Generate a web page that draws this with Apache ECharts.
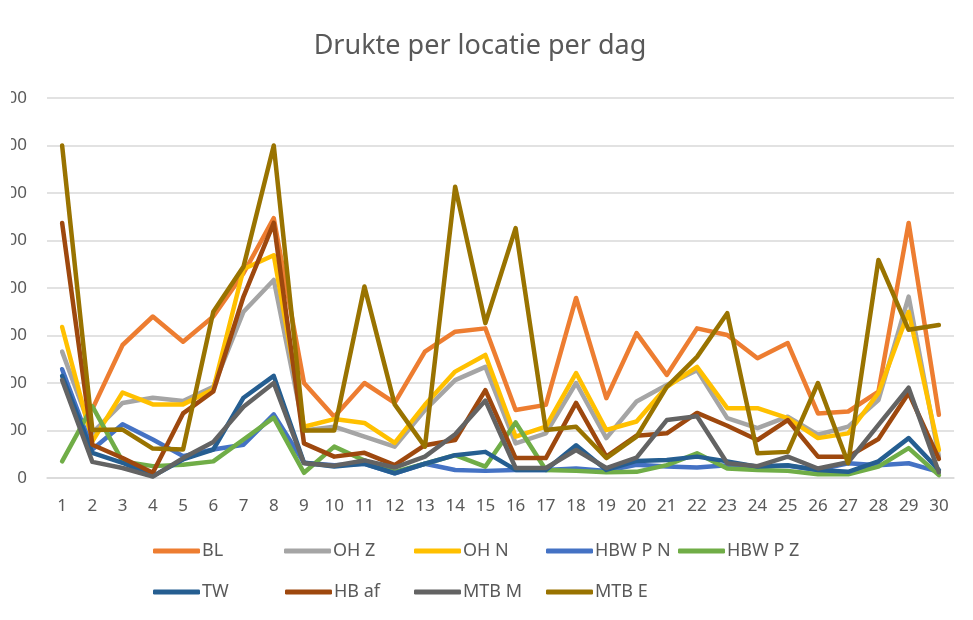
<!DOCTYPE html>
<html>
<head>
<meta charset="utf-8">
<script src="https://cdn.jsdelivr.net/npm/echarts@6/dist/echarts.min.js"></script>
<style>
html,body{margin:0;padding:0;background:#fff;}
#wrap{position:relative;width:973px;height:620px;overflow:hidden;}
#chart{position:absolute;left:0;top:0;width:973px;height:620px;}
#mask{position:absolute;left:0;top:0;width:11px;height:620px;background:#fff;z-index:5;}
</style>
</head>
<body>
<div id="wrap"><div id="chart"></div><div id="mask"></div></div>
<script>
const days = ['1','2','3','4','5','6','7','8','9','10','11','12','13','14','15','16','17','18','19','20','21','22','23','24','25','26','27','28','29','30'];
const yTicks = [0,100,200,300,400,500,600,700,800];

const BL      = [null,145,280,340,287,340,431,547,200,129,200,158,266,308,315,143,154,379,168,305,217,315,301,252,284,136,140,182,537,133];
const OH_Z    = [266,95,158,169,162,192,350,417,100,108,87,66,143,206,234,73,94,200,84,161,196,227,126,105,129,91,108,164,382,45];
const OH_N    = [318,77,180,155,155,187,440,469,108,124,116,74,154,224,259,87,108,221,101,119,192,234,147,147,126,84,94,179,350,59];
const HBW_P_N = [229,60,113,81,46,60,70,134,32,27,30,10,30,17,15,17,17,20,15,28,24,22,27,24,26,17,31,27,31,13];
const HBW_P_Z = [35,151,35,25,28,35,81,127,11,66,37,13,30,48,24,117,17,15,12,13,27,52,20,17,15,8,8,24,63,6];
const TW      = [215,53,32,4,39,60,169,215,32,24,30,10,30,48,55,17,17,69,17,36,38,45,35,24,27,17,13,35,84,17];
const HB_af   = [537,70,42,11,136,182,382,537,73,45,53,27,69,80,185,42,42,158,45,89,94,137,110,80,122,45,45,82,179,40];
const MTB_M   = [206,34,21,3,42,76,150,200,31,26,37,22,45,92,163,21,21,59,21,43,122,130,31,25,45,20,33,112,190,12];
const MTB_E   = [700,101,102,62,60,350,445,700,100,100,403,155,66,613,326,526,101,108,42,87,192,255,347,52,55,200,31,459,312,322];

const names  = ['BL','OH Z','OH N','HBW P N','HBW P Z','TW','HB af','MTB M','MTB E'];
const values = [BL,OH_Z,OH_N,HBW_P_N,HBW_P_Z,TW,HB_af,MTB_M,MTB_E];
const colors = ['#ED7D31','#A5A5A5','#FFC000','#4472C4','#70AD47','#255E91','#9E480E','#636363','#997300'];

const FONT = 'Noto Sans';
const TXT = '#595959';

const legendPos = [
  [153,542],[284,542],[414,542],[546,542],[678,542],
  [153,583],[285,583],[414,583],[546,583]
];

const chart = echarts.init(document.getElementById('chart'), null, {renderer:'canvas'});
chart.setOption({
  animation:false,
  backgroundColor:'#fff',
  title:{
    text:'Drukte per locatie per dag',
    left:475, top:28, textAlign:'center',
    textStyle:{fontFamily:FONT,fontSize:27,fontWeight:'normal',color:TXT}
  },
  legend: names.map((n,i)=>({
    data:[{name:n,icon:'roundRect'}], left:legendPos[i][0], top:legendPos[i][1],
    itemWidth:47, itemHeight:5, itemGap:0, padding:0,
    textStyle:{fontFamily:FONT,fontSize:18,color:TXT,padding:[0,0,0,-3]},
    selectedMode:false
  })),
  grid:{left:47,right:19,top:98,bottom:142,containLabel:false,outerBoundsMode:'none'},
  xAxis:{
    type:'category', data:days, boundaryGap:true,
    axisLine:{show:true,lineStyle:{color:'#D9D9D9',width:1.5}},
    axisTick:{show:false},
    axisLabel:{fontFamily:FONT,fontSize:17,color:TXT,margin:20,interval:0}
  },
  yAxis:{
    type:'value', min:yTicks[0], max:yTicks[yTicks.length-1], interval:100,
    axisLine:{show:false}, axisTick:{show:false},
    axisLabel:{fontFamily:FONT,fontSize:17,color:TXT,margin:20},
    splitLine:{lineStyle:{color:'#D9D9D9',width:1.5}}
  },
  series: names.map((n,i)=>({
    name:n, type:'line', data:values[i],
    symbol:'none', connectNulls:false,
    lineStyle:{color:colors[i],width:4.5,join:'round',cap:'round'},
    itemStyle:{color:colors[i]},
    z:2+i
  }))
});
</script>
</body>
</html>
